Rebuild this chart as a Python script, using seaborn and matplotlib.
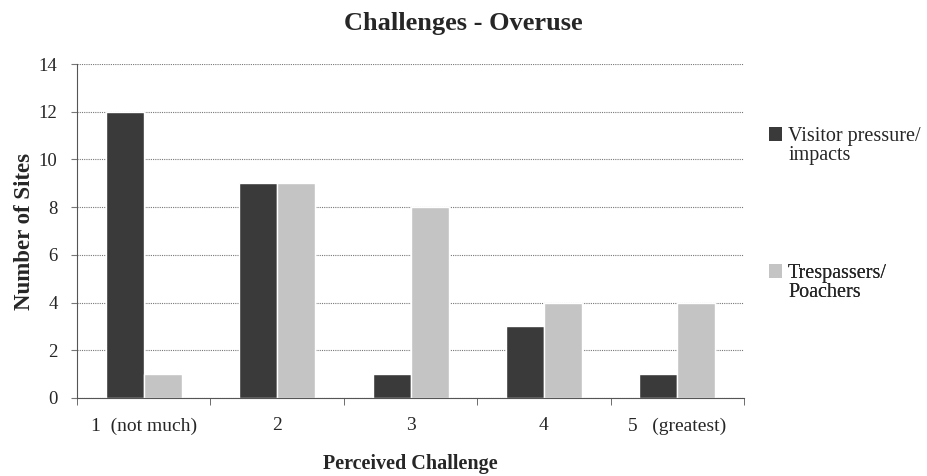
import matplotlib
matplotlib.use("Agg")
import matplotlib.pyplot as plt
import seaborn as sns
import pandas as pd
import numpy as np
from matplotlib.patches import Patch

categories = ["1  (not much)", "2", "3", "4", "5   (greatest)"]
visitor = [12, 9, 1, 3, 1]
trespass = [1, 9, 8, 4, 4]
series_names = ["Visitor pressure/\nimpacts", "Trespassers/\nPoachers"]
yticks = [0, 2, 4, 6, 8, 10, 12, 14]

df = pd.DataFrame({
    "cat": categories * 2,
    "val": visitor + trespass,
    "series": [series_names[0]] * 5 + [series_names[1]] * 5,
})

sns.set_style("white")
plt.rcParams['font.family'] = ['Liberation Serif', 'DejaVu Serif']

fig = plt.figure(figsize=(9.27, 4.76), dpi=100)
ax = fig.add_axes([0.0831, 0.1639, 0.7195, 0.7016])

colors = ["#3a3a3a", "#c4c4c4"]
sns.barplot(data=df, x="cat", y="val", hue="series", order=categories,
            hue_order=series_names, palette=colors,
            width=0.57, ax=ax, saturation=1, legend=True)
if ax.get_legend() is not None:
    ax.get_legend().remove()

ax.set_ylim(0, 14)
ax.set_xlim(-0.5, 4.5)
ax.set_yticks(yticks)
ax.set_yticklabels([str(t) for t in yticks], fontsize=13.5)
ax.yaxis.grid(True, linestyle=(0, (1, 1)), color="#777777", linewidth=0.8)
ax.set_axisbelow(True)
for s in ["top", "right"]:
    ax.spines[s].set_visible(False)
ax.spines["left"].set_linestyle((0, (1, 1)))
ax.spines["left"].set_color("#555555")
ax.spines["bottom"].set_linestyle((0, (1, 1)))
ax.spines["bottom"].set_color("#555555")

ax.set_xticks(np.arange(5))
ax.set_xticklabels(categories, fontsize=14)
ax.tick_params(axis="x", length=0, pad=14)
ax.tick_params(axis="y", length=4, pad=10, color="#777777", left=True)
ax.set_xticks(np.arange(-0.5, 5.0, 1.0), minor=True)
ax.tick_params(axis="x", which="minor", length=5, direction="out", color="#555555", bottom=True)

ax.set_xlabel("Perceived Challenge", fontsize=14.5, fontweight="bold", labelpad=14)
ax.set_ylabel("Number of Sites", fontsize=16.5, fontweight="bold", labelpad=3)
fig.suptitle("Challenges - Overuse", fontsize=19, fontweight="bold", y=0.975)

blank = Patch(facecolor="none", edgecolor="none")
legend_anchors = [0.811, 0.401]
for i, name in enumerate(series_names):
    first, second = name.split("\n")
    h = Patch(facecolor=colors[i], edgecolor="none")
    leg = ax.legend([h, blank], [first, second], loc="upper left",
                    bbox_to_anchor=(1.0375, legend_anchors[i]), frameon=False,
                    fontsize=14.5, handlelength=0.65, handleheight=0.65,
                    handletextpad=0.3, labelspacing=0.0, borderpad=0,
                    borderaxespad=0)
    ax.add_artist(leg)

fig.savefig("out.png", dpi=100)
